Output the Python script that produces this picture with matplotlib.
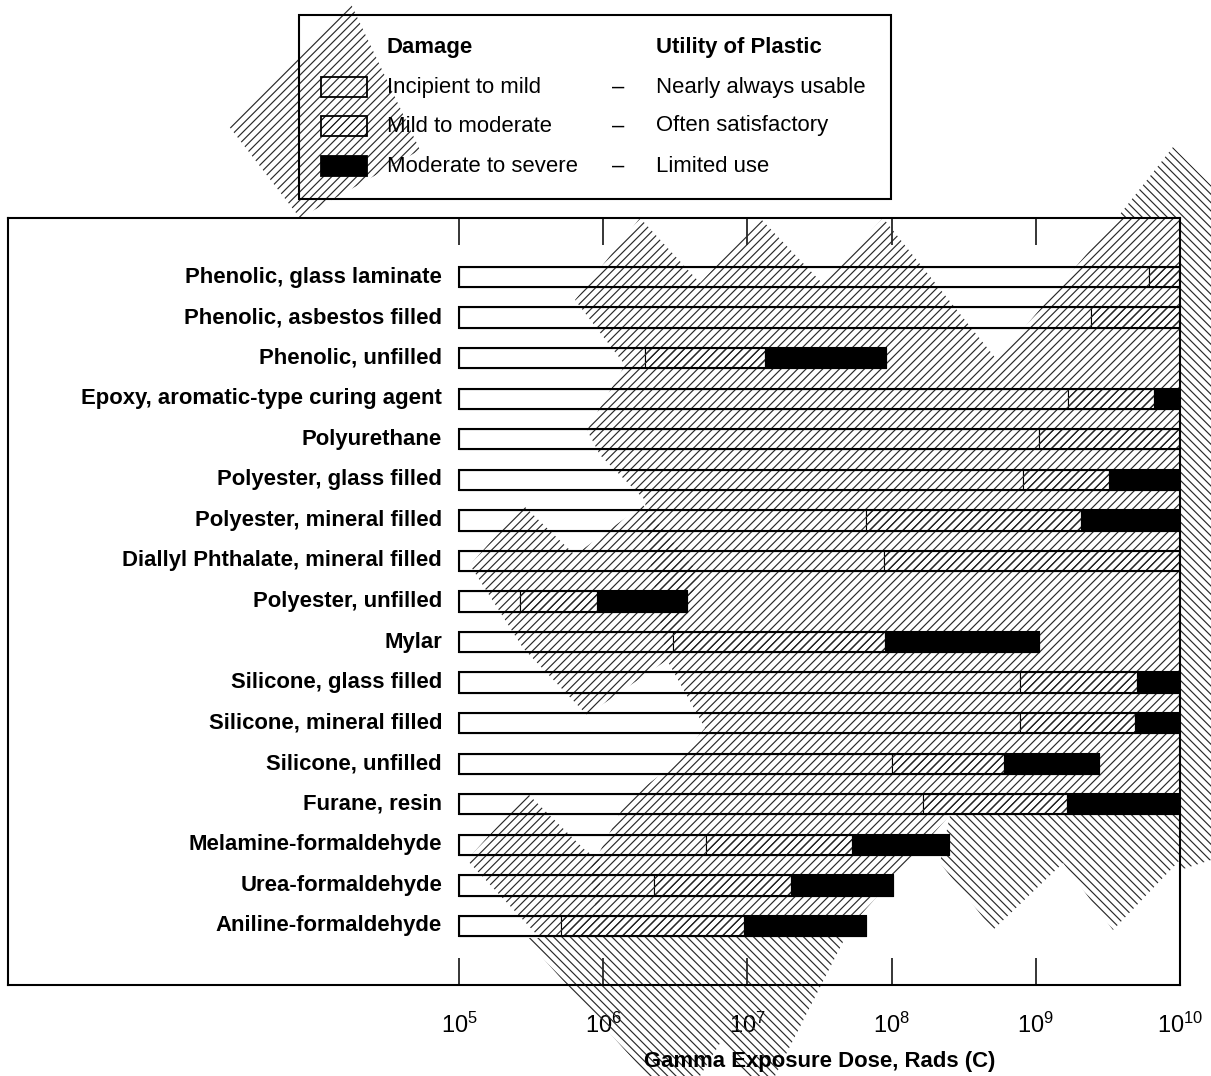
import matplotlib
matplotlib.use("Agg")
import matplotlib.pyplot as plt
import matplotlib.transforms as mtransforms
from matplotlib.patches import Rectangle, Polygon
from matplotlib.ticker import NullLocator, FixedLocator

plt.rcParams['font.family'] = ['Liberation Sans', 'DejaVu Sans']
plt.rcParams['mathtext.fontset'] = 'custom'
plt.rcParams['mathtext.rm'] = 'Liberation Sans'
plt.rcParams['hatch.linewidth'] = 0.85

# ---------------- data ----------------
materials = [
    "Phenolic, glass laminate",
    "Phenolic, asbestos filled",
    "Phenolic, unfilled",
    "Epoxy, aromatic-type curing agent",
    "Polyurethane",
    "Polyester, glass filled",
    "Polyester, mineral filled",
    "Diallyl Phthalate, mineral filled",
    "Polyester, unfilled",
    "Mylar",
    "Silicone, glass filled",
    "Silicone, mineral filled",
    "Silicone, unfilled",
    "Furane, resin",
    "Melamine-formaldehyde",
    "Urea-formaldehyde",
    "Aniline-formaldehyde",
]
dose_start = 1e5
incipient_end = [6.1e9, 2.4e9, 1.95e6, 1.67e9, 1.05e9, 8.2e8, 6.6e7, 8.9e7, 2.65e5,
                 3.05e6, 7.8e8, 7.8e8, 1.01e8, 1.65e8, 5.2e6, 2.25e6, 5.1e5]
mild_end = [1e10, 1e10, 1.32e7, 6.6e9, 1e10, 3.2e9, 2.05e9, 1e10, 9.0e5,
            9.0e7, 5.0e9, 4.85e9, 6.05e8, 1.65e9, 5.3e7, 2.0e7, 9.5e6]
severe_end = [1e10, 1e10, 9.1e7, 1e10, 1e10, 1e10, 1e10, 1e10, 3.8e6,
              1.06e9, 1e10, 1e10, 2.75e9, 1e10, 2.5e8, 1.03e8, 6.6e7]
xticks = [1e5, 1e6, 1e7, 1e8, 1e9, 1e10]
xlabel = "Gamma Exposure Dose, Rads (C)"
legend_damage = ["Incipient to mild", "Mild to moderate", "Moderate to severe"]
legend_utility = ["Nearly always usable", "Often satisfactory", "Limited use"]

# decorative scan-texture overlay (pixel outlines of hatched areas)
slash_areas = [
    [(350, 2), (420, 150), (300, 218), (228, 125)],
    [(575, 300), (640, 218), (700, 283), (760, 218), (822, 283), (883, 218), (997, 360),
     (1117, 218), (1180, 218), (1180, 815), (950, 815), (840, 938), (600, 938),
     (590, 870), (627, 800), (676, 763), (705, 728), (667, 660), (650, 560),
     (645, 500), (600, 455), (587, 430), (625, 365)],
    [(523, 505), (575, 555), (643, 505), (700, 575), (667, 660), (587, 715),
     (523, 648), (470, 565)],
    [(527, 793), (585, 850), (600, 860), (600, 938), (540, 938), (467, 860)],
]
backslash_areas = [
    [(1117, 218), (1173, 147), (1211, 185), (1211, 860), (1180, 870), (1180, 218)],
    [(950, 815), (1180, 815), (1180, 860), (1113, 930), (1063, 863), (993, 930), (940, 863)],
    [(525, 938), (845, 938), (775, 1076), (745, 1076), (722, 1040), (700, 1076), (648, 1076)],
]

# ---------------- figure ----------------
W, H = 1211, 1076
fig = plt.figure(figsize=(W / 100, H / 100), dpi=100)
ax = fig.add_axes([8 / W, 1 - 985 / H, (1180 - 8) / W, (985 - 218) / H])
ax.set_xscale('log')

n = len(materials)
ys = list(range(n))
h = 0.5
lw_out = 1.5
lw_in = 0.8
hatch_pat = '////'
tex_color = '#2a2a2a'

w1 = [e - dose_start for e in incipient_end]
w2 = [m - i for m, i in zip(mild_end, incipient_end)]
w3 = [s - m for s, m in zip(severe_end, mild_end)]
ax.barh(ys, w1, left=dose_start, height=h, color='white', edgecolor='black',
        linewidth=lw_in, zorder=1.5)
ax.barh(ys, w2, left=incipient_end, height=h, color='white', edgecolor='black',
        linewidth=lw_in, hatch=hatch_pat, zorder=1.6)
ax.barh(ys, w3, left=mild_end, height=h, color='black', edgecolor='black',
        linewidth=lw_in, zorder=2.5)
ax.barh(ys, [s - dose_start for s in severe_end], left=dose_start, height=h,
        fill=False, edgecolor='black', linewidth=lw_out, zorder=2.6)

ax.set_xlim(10 ** (5 - 451 / 144.2), 1e10)
ax.set_ylim(n - 1 + 1.455, -1.455)

ax.xaxis.set_major_locator(FixedLocator(xticks))
ax.xaxis.set_minor_locator(NullLocator())
ax.tick_params(axis='x', which='major', direction='in', length=19.5, width=1.1,
               top=True, bottom=True, labelsize=17, pad=20)
ax.set_yticks([])
for s in ax.spines.values():
    s.set_linewidth(1.5)

lab_tr = mtransforms.offset_copy(ax.transData, fig=fig, x=-17, y=0, units='dots')
for y, name in zip(ys, materials):
    ax.text(dose_start, y, name, transform=lab_tr, ha='right', va='center',
            fontsize=15.9, fontweight='bold')

xl_tr = mtransforms.blended_transform_factory(ax.transData, fig.transFigure)
ax.text(10 ** 7.5, 1 - 1062 / H, xlabel, transform=xl_tr, ha='center', va='center',
        fontsize=15.9, fontweight='bold', clip_on=False)

# overlay texture
def to_fig(pts):
    return [(x / W, 1 - y / H) for x, y in pts]

for pts in slash_areas:
    ax.add_artist(Polygon(to_fig(pts), closed=True, transform=fig.transFigure,
                          facecolor='none', edgecolor=tex_color, linewidth=0,
                          hatch=hatch_pat, zorder=2, clip_on=False))
for pts in backslash_areas:
    ax.add_artist(Polygon(to_fig(pts), closed=True, transform=fig.transFigure,
                          facecolor='none', edgecolor=tex_color, linewidth=0,
                          hatch='\\\\\\\\', zorder=2, clip_on=False))

# ---------------- legend ----------------
fig.add_artist(Rectangle((299 / W, 1 - 199 / H), (891 - 299) / W, (199 - 15) / H,
                         transform=fig.transFigure, fill=False, edgecolor='black',
                         linewidth=1.5, zorder=4))
fig.text(387 / W, 1 - 47 / H, "Damage", ha='left', va='center', fontsize=15.9,
         fontweight='bold')
fig.text(656 / W, 1 - 47 / H, "Utility of Plastic", ha='left', va='center',
         fontsize=15.9, fontweight='bold')
row_y = [87, 126, 166]
sw_style = [dict(facecolor='none'), dict(facecolor='white', hatch=hatch_pat),
            dict(facecolor='black')]
for ry, dmg, utl, st in zip(row_y, legend_damage, legend_utility, sw_style):
    fig.add_artist(Rectangle((321 / W, 1 - (ry + 10) / H), 46 / W, 20 / H,
                             transform=fig.transFigure, edgecolor='black',
                             linewidth=1.3, zorder=1, **st))
    fig.text(387 / W, 1 - ry / H, dmg, ha='left', va='center', fontsize=15.9)
    fig.text(618 / W, 1 - ry / H, "–", ha='center', va='center', fontsize=15.9)
    fig.text(656 / W, 1 - ry / H, utl, ha='left', va='center', fontsize=15.9)

fig.savefig("out.png", dpi=100)
